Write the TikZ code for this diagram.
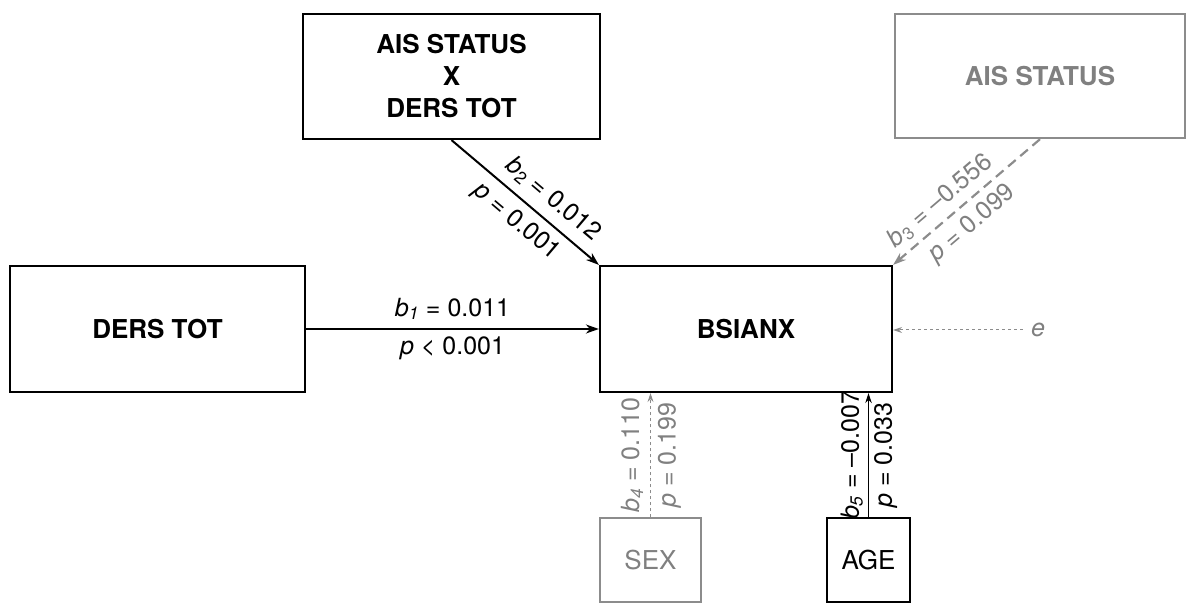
\documentclass[tikz,border=0pt]{standalone}
\usepackage{fontspec}
\setmainfont{TeX Gyre Heros}
\usetikzlibrary{arrows.meta}
\definecolor{gtxt}{HTML}{808080}
\definecolor{gline}{HTML}{8C8C8C}
\begin{document}
\begin{tikzpicture}[x=1pt,y=-1pt,
  boxfont/.style={font=\fontsize{26}{32}\selectfont\bfseries},
  mainbox/.style={draw, line width=2.2pt, inner sep=0pt, align=center, boxfont},
  graybox/.style={draw=gline, text=gtxt, line width=2.4pt, inner sep=0pt, align=center, boxfont},
  smallbox/.style={draw, line width=1.1pt, inner sep=0pt, font=\fontsize{26}{30}\selectfont},
  lab/.style={font=\fontsize{25}{29}\selectfont, inner sep=6pt},
  blackarrow/.style={line width=2pt, -{Stealth[length=13pt,width=9pt]}},
  grayarrow/.style={draw=gline, line width=2.2pt, dash pattern=on 10pt off 6pt, -{Stealth[length=13pt,width=9pt]}},
  dotarrow/.style={draw=gline, line width=1pt, dash pattern=on 3pt off 3pt, -{Stealth[length=9pt,width=6pt]}},
  thinarrow/.style={line width=1.3pt, -{Stealth[length=10pt,width=6.5pt]}}
]
\useasboundingbox (0,0) rectangle (1187,604);

\node[mainbox, minimum width=295pt, minimum height=126pt] (ders) at (157.5,329) {DERS TOT};
\node[mainbox, minimum width=297pt, minimum height=125pt] (inter) at (451.5,76.5) {AIS STATUS\\X\\DERS TOT};
\node[graybox, minimum width=290pt, minimum height=124pt] (ais) at (1040,76) {AIS STATUS};
\node[mainbox, minimum width=292pt, minimum height=126pt] (bsi) at (746,329) {BSIANX};
\node[smallbox, draw=gline, text=gtxt, minimum width=101pt, minimum height=84pt] (sex) at (650.5,560) {SEX};
\node[smallbox, minimum width=83pt, minimum height=84pt] (age) at (868.5,560) {AGE};
\node[lab, text=gtxt, inner sep=0pt] (e) at (1038,330) {\textit{e}};

\draw[blackarrow] (ders.east) -- (bsi.west)
  node[lab, midway, above, inner sep=8pt] {\textit{b}\textsubscript{\textit{1}} = 0.011}
  node[lab, midway, below, inner sep=7pt] {\textit{p} < 0.001};
\draw[blackarrow] (inter.south) -- (bsi.north west)
  node[lab, pos=0.6, sloped, above, inner sep=9pt] {\textit{b}\textsubscript{2} = 0.012}
  node[lab, pos=0.53, sloped, below, inner sep=8pt] {\textit{p} = 0.001};
\draw[grayarrow] (ais.south) -- (bsi.north east)
  node[lab, text=gtxt, pos=0.6, sloped, above, inner sep=6pt] {\textit{b}\textsubscript{3} = \textendash0.556}
  node[lab, text=gtxt, pos=0.55, sloped, below, inner sep=8pt] {\textit{p} = 0.099};
\draw[dotarrow] ([xshift=-8pt]e.west) -- (bsi.east |- e.west);
\draw[dotarrow] (sex.north) -- (sex.north |- bsi.south)
  node[lab, text=gtxt, midway, sloped, above, inner sep=7pt] {\textit{b}\textsubscript{\textit{4}} = 0.110}
  node[lab, text=gtxt, midway, sloped, below, inner sep=7pt] {\textit{p} = 0.199};
\draw[thinarrow] (age.north) -- (age.north |- bsi.south)
  node[lab, midway, sloped, above, inner sep=5pt, yshift=0pt] {\textit{b}\textsubscript{\textit{5}} = \textendash0.007}
  node[lab, midway, sloped, below, inner sep=5pt] {\textit{p} = 0.033};
\end{tikzpicture}
\end{document}
